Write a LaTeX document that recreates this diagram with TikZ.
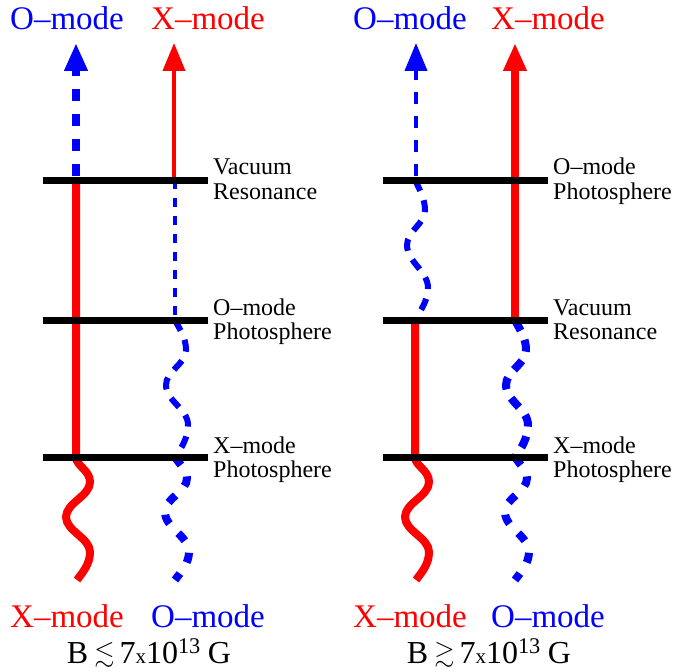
\documentclass[tikz,border=0pt]{standalone}
\usepackage{amssymb}
\usepackage{fontspec}
\setmainfont{Liberation Serif}
\usetikzlibrary{arrows.meta}
\begin{document}
\begin{tikzpicture}[x=1pt,y=-1pt,
  level/.style={line width=7pt, black},
  redthick/.style={line width=8pt, red},
  redthin/.style={line width=4pt, red},
  bluethin/.style={line width=4pt, blue, dash pattern=on 9pt off 9pt},
  bluetop/.style={line width=4pt, blue, dash pattern=on 12pt off 12pt},
  bluemid/.style={line width=6pt, blue, dash pattern=on 12pt off 10pt},
  bluemidthick/.style={line width=8pt, blue, dash pattern=on 12pt off 10pt},
  bluethick/.style={line width=8pt, blue, dash pattern=on 10pt off 13pt},
  bluearrow/.style={line width=8pt, blue, dash pattern=on 12pt off 13pt},
  tip/.style={-{Triangle[length=28pt,width=22pt]}},
  big/.style={font=\fontsize{33}{36}\selectfont, inner sep=0pt, anchor=base},
  lab/.style={font=\fontsize{24}{26}\selectfont, inner sep=0pt, anchor=base west},
  formula/.style={font=\fontsize{32}{34}\selectfont, inner sep=0pt, anchor=base},
]
\useasboundingbox (0,0) rectangle (676,671);

% ---------- coordinates, left panel ----------
\coordinate (LaTop) at (76,43);
\coordinate (La1) at (76,176);
\coordinate (La1b) at (76,180);
\coordinate (La3) at (76,457);
\coordinate (LbTop) at (174,43);
\coordinate (Lb1) at (174,180);
\coordinate (Lc1) at (175,180);
\coordinate (Lc2) at (175,320);
\coordinate (Lc3) at (175,457);
% ---------- coordinates, right panel ----------
\coordinate (RaTop) at (416,43);
\coordinate (Ra1) at (416,176);
\coordinate (Rw1) at (415,180);
\coordinate (Ra2) at (415,320);
\coordinate (Ra3) at (415,457);
\coordinate (RbTop) at (515,43);
\coordinate (Rb2) at (515,320);
\coordinate (Rb3) at (515,457);

% ---------- left panel ----------
\draw[bluearrow, tip] (La1) -- (LaTop);
\draw[redthin, tip] (Lb1) -- (LbTop);
\draw[bluethin] (Lc1) -- (Lc2);
\draw[bluemid] (Lc2) .. controls (180,330) and (186,338) .. (186,350)
  .. controls (186,364) and (166,371) .. (166,385)
  .. controls (166,401) and (188,409) .. (188,425)
  .. controls (188,438) and (181,449) .. (Lc3);
\draw[bluethick] (Lc3) .. controls (180,465) and (187,470) .. (187,478)
  .. controls (187,492) and (165,498) .. (165,512)
  .. controls (165,528) and (189,536) .. (189,552)
  .. controls (189,563) and (181,572) .. (175,580) coordinate (LcEnd);
\draw[redthick, line join=round] (La1b) -- (La3)
  .. controls (76,466) and (90,470) .. (90,482)
  .. controls (90,496) and (66,503) .. (66,517)
  .. controls (66,531) and (90,538) .. (90,552)
  .. controls (90,564) and (83,572) .. (77,580) coordinate (LaEnd);

% ---------- right panel ----------
\draw[bluetop, tip] (Ra1) -- (RaTop);
\draw[bluemid] (Rw1) .. controls (420,190) and (425,200) .. (425,210)
  .. controls (425,224) and (407,231) .. (407,245)
  .. controls (407,262) and (428,271) .. (428,288)
  .. controls (428,301) and (420,311) .. (Ra2);
\draw[redthick, tip] (Rb2) -- (RbTop);
\draw[bluemidthick] (Rb2) .. controls (520,330) and (526,338) .. (526,350)
  .. controls (526,364) and (506,371) .. (506,385)
  .. controls (506,401) and (528,409) .. (528,425)
  .. controls (528,438) and (521,449) .. (Rb3);
\draw[bluethick] (Rb3) .. controls (520,465) and (527,470) .. (527,478)
  .. controls (527,492) and (505,498) .. (505,512)
  .. controls (505,528) and (529,536) .. (529,552)
  .. controls (529,563) and (521,572) .. (515,580) coordinate (RbEnd);
\draw[redthick, line join=round] (Ra2) -- (Ra3)
  .. controls (415,466) and (429,470) .. (429,482)
  .. controls (429,496) and (405,503) .. (405,517)
  .. controls (405,531) and (429,538) .. (429,552)
  .. controls (429,564) and (422,572) .. (416,580) coordinate (RaEnd);

% ---------- level lines ----------
\draw[level] (43,180) coordinate (L1s) -- (208,180) coordinate (L1e);
\draw[level] (43,320) coordinate (L2s) -- (208,320) coordinate (L2e);
\draw[level] (43,457) coordinate (L3s) -- (208,457) coordinate (L3e);
\draw[level] (383,180) coordinate (R1s) -- (548,180) coordinate (R1e);
\draw[level] (383,320) coordinate (R2s) -- (548,320) coordinate (R2e);
\draw[level] (383,457) coordinate (R3s) -- (548,457) coordinate (R3e);

% ---------- labels ----------
\node[big, blue] (tlO) at (67,30) {O–mode};
\node[big, red]  (tlX) at (208,30) {X–mode};
\node[big, blue] (trO) at (410,30) {O–mode};
\node[big, red]  (trX) at (548,30) {X–mode};
\node[big, red]  (blX) at (67,627) {X–mode};
\node[big, blue] (blO) at (208,627) {O–mode};
\node[big, red]  (brX) at (410,627) {X–mode};
\node[big, blue] (brO) at (548,627) {O–mode};

\node[lab] (l1a) at (213,175) {Vacuum};
\node[lab] (l1b) at (213,199) {Resonance};
\node[lab] (l2a) at (213,315) {O–mode};
\node[lab] (l2b) at (213,339) {Photosphere};
\node[lab] (l3a) at (213,453) {X–mode};
\node[lab] (l3b) at (213,477) {Photosphere};
\node[lab] (r1a) at (553,175) {O–mode};
\node[lab] (r1b) at (553,199) {Photosphere};
\node[lab] (r2a) at (553,315) {Vacuum};
\node[lab] (r2b) at (553,339) {Resonance};
\node[lab] (r3a) at (553,453) {X–mode};
\node[lab] (r3b) at (553,477) {Photosphere};

\node[formula] (fl) at (149,663) {B\hspace{6pt}\raisebox{2pt}{\fontsize{26}{26}\selectfont$\lesssim$}\hspace{5pt}7{\fontsize{21}{21}\selectfont x}10\textsuperscript{13}\hspace{7pt}G};
\node[formula] (fr) at (489,663) {B\hspace{6pt}\raisebox{2pt}{\fontsize{26}{26}\selectfont$\gtrsim$}\hspace{5pt}7{\fontsize{21}{21}\selectfont x}10\textsuperscript{13}\hspace{7pt}G};
\end{tikzpicture}
\end{document}
